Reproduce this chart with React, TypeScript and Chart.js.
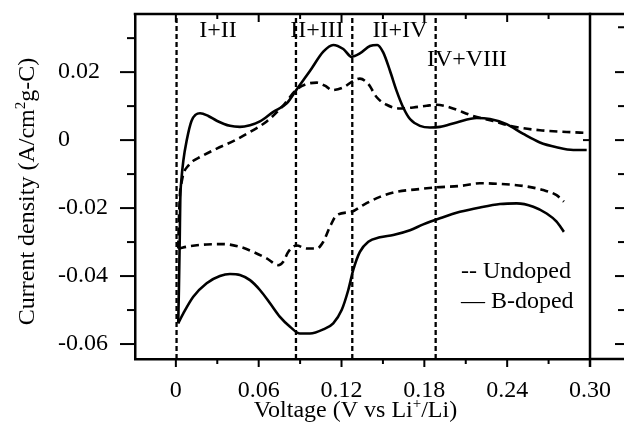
import React, { useEffect, useRef } from 'react';
import { Chart, registerables } from 'chart.js';

Chart.register(...registerables);

const FONT = "'Liberation Serif', 'Times New Roman', Times, serif";

// Axis ranges
const X_MIN = -0.0296;
const X_MAX = 0.3;
const Y_MIN = -0.0644;
const Y_MAX = 0.0371;

// Tick values
const xTickValues = [0, 0.06, 0.12, 0.18, 0.24, 0.3];
const xMinorValues = [0.03, 0.09, 0.15, 0.21, 0.27];
const yTickValues = [-0.06, -0.04, -0.02, 0, 0.02];
const yMinorValues = [-0.05, -0.03, -0.01, 0.01, 0.03];
const nextPanelTicks = [0.0332, 0.02, 0.01, 0, -0.01, -0.02, -0.03, -0.04, -0.05, -0.06];

// Phase boundaries (dashed verticals) and labels
const phaseLines = [0.0005, 0.087, 0.1278, 0.1882];
const phaseLabels = ['I+II', 'II+III', 'II+IV', 'IV+VIII'];
const phaseLabelX = [0.0305, 0.1022, 0.1623, 0.2109];
const phaseLabelY = [0.0321, 0.0321, 0.0321, 0.0238];

// Legend text
const legendLabels = ['-- Undoped', '\u2014 B-doped'];
const legendX = 0.2065;
const legendY = [-0.0388, -0.0476];

// B-doped, anodic (upper) branch
const bDopedAnodicV = [0.0017, 0.0022, 0.0028, 0.0032, 0.004, 0.0054, 0.0078, 0.0114, 0.0175, 0.0235, 0.0296, 0.0392, 0.0464, 0.0537, 0.0609, 0.0706, 0.0803, 0.0875, 0.0971, 0.1068, 0.114, 0.1213, 0.1273, 0.1333, 0.1406, 0.1459, 0.1502, 0.1551, 0.1599, 0.1647, 0.1696, 0.1768, 0.1841, 0.1913, 0.2034, 0.2179, 0.2275, 0.2396, 0.2517, 0.2637, 0.2758, 0.2879, 0.2976];
const bDopedAnodicI = [-0.0539, -0.0441, -0.0294, -0.0176, -0.0118, -0.0061, -0.0002, 0.0057, 0.0079, 0.0071, 0.0057, 0.0042, 0.0039, 0.0044, 0.0055, 0.0083, 0.0108, 0.0149, 0.0203, 0.026, 0.028, 0.0268, 0.0245, 0.0255, 0.0277, 0.028, 0.0258, 0.0204, 0.0145, 0.0096, 0.0062, 0.0042, 0.0037, 0.0039, 0.0052, 0.0065, 0.0062, 0.0047, 0.0018, -0.0007, -0.0021, -0.0029, -0.0029];

// B-doped, cathodic (lower) branch
const bDopedCathodicV = [0.0017, 0.0054, 0.0126, 0.0223, 0.0319, 0.0392, 0.0464, 0.0537, 0.0609, 0.0682, 0.0754, 0.0827, 0.0899, 0.0971, 0.1068, 0.114, 0.1201, 0.1249, 0.1285, 0.1333, 0.1394, 0.1478, 0.1575, 0.1696, 0.1792, 0.1913, 0.2058, 0.2203, 0.2348, 0.2469, 0.2589, 0.2686, 0.2758, 0.2811];
const bDopedCathodicI = [-0.0539, -0.051, -0.0461, -0.0421, -0.04, -0.0394, -0.0397, -0.0412, -0.0441, -0.048, -0.052, -0.0549, -0.0569, -0.0569, -0.0557, -0.0539, -0.05, -0.0441, -0.0382, -0.0329, -0.0299, -0.0286, -0.0279, -0.0265, -0.0248, -0.023, -0.0211, -0.0198, -0.0188, -0.0186, -0.0196, -0.0216, -0.024, -0.027];

// Undoped, anodic (upper) branch
const undopedAnodicV = [0.0017, 0.0022, 0.003, 0.004, 0.0054, 0.0088, 0.0126, 0.0175, 0.0296, 0.0416, 0.0537, 0.0658, 0.0778, 0.0875, 0.0947, 0.102, 0.1092, 0.1129, 0.1213, 0.1285, 0.1333, 0.1394, 0.1455, 0.1527, 0.1623, 0.172, 0.1817, 0.1889, 0.1986, 0.2154, 0.2299, 0.2444, 0.2637, 0.2831, 0.2976];
const undopedAnodicI = [-0.0319, -0.0235, -0.0156, -0.0128, -0.01, -0.0076, -0.0061, -0.005, -0.0025, -0.0003, 0.0024, 0.0055, 0.0102, 0.0149, 0.0165, 0.0169, 0.0157, 0.0147, 0.0155, 0.0174, 0.0181, 0.0165, 0.0126, 0.0104, 0.0093, 0.0096, 0.0101, 0.0104, 0.0096, 0.0071, 0.0056, 0.004, 0.0029, 0.0024, 0.0021];

// Undoped, cathodic (lower) branch
const undopedCathodicV = [0.0017, 0.0102, 0.0223, 0.0343, 0.0464, 0.0561, 0.0658, 0.0742, 0.0778, 0.0814, 0.0875, 0.0947, 0.102, 0.1068, 0.1116, 0.1165, 0.1273, 0.1357, 0.1478, 0.1599, 0.1744, 0.1889, 0.2058, 0.2203, 0.2348, 0.2517, 0.2661, 0.2758, 0.2811];
const undopedCathodicI = [-0.0319, -0.0312, -0.0307, -0.0306, -0.0314, -0.0329, -0.0348, -0.0368, -0.0358, -0.0329, -0.031, -0.0319, -0.0319, -0.0299, -0.0255, -0.0221, -0.0211, -0.0191, -0.0167, -0.0152, -0.0145, -0.0139, -0.0135, -0.0127, -0.0129, -0.0135, -0.0147, -0.0162, -0.0181];

function pts(xs: number[], ys: number[]) {
  return xs.map((x, i) => ({ x, y: ys[i] }));
}

function fmt(v: number) {
  return Math.abs(v) < 1e-9 ? '0' : v.toFixed(2);
}

function drawParts(ctx: CanvasRenderingContext2D, parts: [string, boolean][], cx: number, baseline: number) {
  const big = `24px ${FONT}`;
  const small = `15px ${FONT}`;
  let total = 0;
  const widths = parts.map(([t, sup]) => {
    ctx.font = sup ? small : big;
    const w = ctx.measureText(t).width;
    total += w;
    return w;
  });
  let x = cx - total / 2;
  ctx.textAlign = 'left';
  ctx.textBaseline = 'alphabetic';
  parts.forEach(([t, sup], i) => {
    ctx.font = sup ? small : big;
    ctx.fillText(t, x, sup ? baseline - 9 : baseline);
    x += widths[i];
  });
}

const decorPlugin = {
  id: 'decor',
  afterDraw(chart: any) {
    const { ctx, chartArea: a, scales } = chart;
    const xs = scales.x;
    const ys = scales.y;
    const W = chart.width;
    const seg = (x1: number, y1: number, x2: number, y2: number) => {
      ctx.beginPath();
      ctx.moveTo(x1, y1);
      ctx.lineTo(x2, y2);
      ctx.stroke();
    };
    ctx.save();
    ctx.strokeStyle = '#000';
    ctx.fillStyle = '#000';
    ctx.setLineDash([]);
    ctx.lineWidth = 2.5;
    seg(a.left - 1.25, a.top, W, a.top);
    seg(a.right, a.top - 1.25, a.right, a.bottom + 8);
    seg(a.right, a.bottom, W, a.bottom);

    ctx.lineWidth = 2;
    xTickValues.forEach((v) => {
      const p = xs.getPixelForValue(v);
      seg(p, a.bottom, p, a.bottom + 8);
      if (v < X_MAX - 1e-6) seg(p, a.top, p, a.top + 8);
    });
    xMinorValues.forEach((v) => {
      const p = xs.getPixelForValue(v);
      seg(p, a.bottom, p, a.bottom + 5);
      seg(p, a.top, p, a.top + 5);
    });
    yTickValues.forEach((v) => {
      const p = ys.getPixelForValue(v);
      seg(a.left - 15, p, a.left, p);
    });
    yMinorValues.forEach((v) => {
      const p = ys.getPixelForValue(v);
      seg(a.left - 8, p, a.left, p);
    });
    {
      const p = ys.getPixelForValue(0);
      seg(a.right - 7, p, a.right, p);
    }
    nextPanelTicks.forEach((v, i) => {
      const p = ys.getPixelForValue(v);
      seg(W - (i % 2 === 1 ? 9 : 6), p, W, p);
    });

    // phase labels
    ctx.font = `24px ${FONT}`;
    ctx.textAlign = 'center';
    ctx.textBaseline = 'middle';
    phaseLabels.forEach((t, i) => {
      ctx.fillText(t, xs.getPixelForValue(phaseLabelX[i]), ys.getPixelForValue(phaseLabelY[i]));
    });

    // legend
    ctx.textAlign = 'left';
    legendLabels.forEach((t, i) => {
      ctx.fillText(t, xs.getPixelForValue(legendX), ys.getPixelForValue(legendY[i]));
    });

    // x title
    drawParts(ctx, [['Voltage (V vs Li', false], ['+', true], ['/Li)', false]], (a.left + a.right) / 2 - 7, chart.height - 7);

    // y title
    ctx.save();
    ctx.translate(34, (a.top + a.bottom) / 2 + 5);
    ctx.rotate(-Math.PI / 2);
    drawParts(ctx, [['Current density (A/cm', false], ['2', true], ['g-C)', false]], 0, 0);
    ctx.restore();

    ctx.restore();
  },
};

export default function App() {
  const ref = useRef<HTMLCanvasElement | null>(null);

  useEffect(() => {
    if (!ref.current) return;
    const curve = {
      borderColor: '#000',
      borderWidth: 2.6,
      pointRadius: 0,
      fill: false,
      cubicInterpolationMode: 'monotone' as const,
    };
    const guide = phaseLines.map((v) => ({
      data: [
        { x: v, y: Y_MIN },
        { x: v, y: Y_MAX },
      ],
      borderColor: '#000',
      borderWidth: 2.3,
      borderDash: [5, 3],
      pointRadius: 0,
      fill: false,
      tension: 0,
    }));
    const chart = new Chart(ref.current, {
      type: 'line',
      data: {
        datasets: [
          { ...curve, label: 'Undoped', data: pts(undopedAnodicV, undopedAnodicI), borderDash: [8, 5] },
          { ...curve, label: 'Undoped', data: pts(undopedCathodicV, undopedCathodicI), borderDash: [8, 5] },
          { ...curve, label: 'B-doped', data: pts(bDopedAnodicV, bDopedAnodicI) },
          { ...curve, label: 'B-doped', data: pts(bDopedCathodicV, bDopedCathodicI) },
          ...guide,
        ] as any,
      },
      options: {
        animation: false,
        responsive: false,
        maintainAspectRatio: false,
        events: [],
        layout: { padding: { left: 58, right: 34, top: 14, bottom: 0 } },
        plugins: {
          legend: { display: false },
          tooltip: { enabled: false },
        },
        scales: {
          x: {
            type: 'linear',
            min: X_MIN,
            max: X_MAX,
            afterBuildTicks: (s: any) => {
              s.ticks = xTickValues.map((value) => ({ value }));
            },
            afterFit: (s: any) => {
              s.height = 65;
              s.paddingLeft = 0;
              s.paddingRight = 0;
            },
            ticks: {
              autoSkip: false,
              maxRotation: 0,
              padding: 17,
              color: '#000',
              font: { family: FONT, size: 24 },
              callback: (v: any) => fmt(Number(v)),
            },
            grid: { display: false, drawTicks: false },
            border: { display: true, color: '#000', width: 2.5 },
          },
          y: {
            type: 'linear',
            min: Y_MIN,
            max: Y_MAX,
            afterBuildTicks: (s: any) => {
              s.ticks = yTickValues.map((value) => ({ value }));
            },
            afterFit: (s: any) => {
              s.width = 77;
              s.paddingTop = 0;
              s.paddingBottom = 0;
            },
            ticks: {
              autoSkip: false,
              crossAlign: 'far',
              padding: 10,
              color: '#000',
              font: { family: FONT, size: 24 },
              callback: (v: any) => fmt(Number(v)),
            },
            grid: { display: false, drawTicks: false },
            border: { display: true, color: '#000', width: 2.5 },
          },
        },
      } as any,
      plugins: [decorPlugin],
    });
    return () => chart.destroy();
  }, []);

  return (
    <div style={{ position: 'absolute', left: 0, top: 0, width: 624, height: 424, background: '#fff' }}>
      <canvas ref={ref} width={624} height={424} style={{ display: 'block', width: 624, height: 424 }} />
    </div>
  );
}
